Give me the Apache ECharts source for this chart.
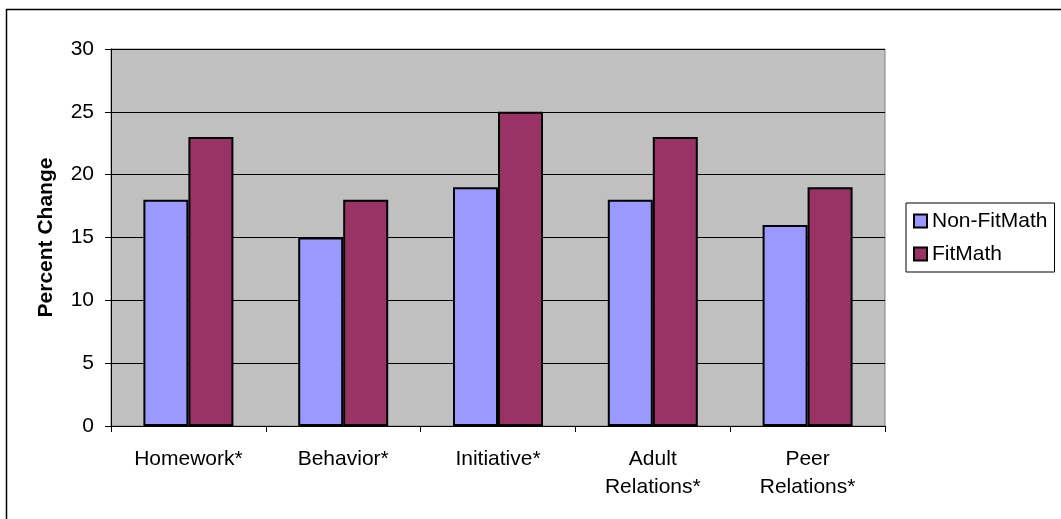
<!DOCTYPE html>
<html>
<head>
<meta charset="utf-8">
<script src="https://cdn.jsdelivr.net/npm/echarts@6/dist/echarts.min.js"></script>
<style>
  html, body { margin: 0; padding: 0; background: #fff; }
  #chart { width: 1061px; height: 519px; }
</style>
</head>
<body>
<div id="chart"></div>
<script>
  // data
  const categories = ['Homework*', 'Behavior*', 'Initiative*', 'Adult\nRelations*', 'Peer\nRelations*']
  const nonFitMath = [18, 15, 19, 18, 16]
  const fitMath = [23, 18, 25, 23, 19]

  const chart = echarts.init(document.getElementById('chart'))
  chart.setOption({
    animation: false,
    textStyle: { fontFamily: 'Liberation Sans, Arial, sans-serif' },
    graphic: [{
      type: 'rect',
      shape: { x: 6.5, y: 9.5, width: 1100, height: 600 },
      style: { fill: 'none', stroke: '#000', lineWidth: 1.5 },
      z: -1
    }],
    grid: {
      left: 111, top: 49, width: 774, height: 377,
      show: true, backgroundColor: '#c0c0c0', borderColor: '#808080', borderWidth: 1
    },
    legend: {
      orient: 'vertical',
      left: 906, top: 203,
      padding: [7, 7, 7, 7],
      itemWidth: 13, itemHeight: 13, itemGap: 11,
      borderColor: '#000', borderWidth: 1,
      textStyle: { fontSize: 21, lineHeight: 22, color: '#000' },
      icon: 'rect',
      itemStyle: { borderColor: '#000', borderWidth: 2 },
      data: ['Non-FitMath', 'FitMath']
    },
    xAxis: {
      type: 'category',
      data: categories,
      axisLine: { lineStyle: { color: '#000' } },
      axisTick: { show: true, length: 6, lineStyle: { color: '#000' } },
      axisLabel: { color: '#000', fontSize: 21, margin: 19, lineHeight: 28, interval: 0 }
    },
    yAxis: {
      type: 'value',
      min: 0, max: 30, interval: 5,
      name: 'Percent Change',
      nameLocation: 'middle',
      nameGap: 54,
      nameTextStyle: { fontSize: 21, fontWeight: 'bold', color: '#000' },
      axisLine: { show: true, lineStyle: { color: '#000' } },
      axisTick: { show: true, length: 6, lineStyle: { color: '#000' } },
      axisLabel: { color: '#000', fontSize: 21, margin: 17 },
      splitLine: { lineStyle: { color: '#000', width: 1 } }
    },
    series: [{
      name: 'Non-FitMath',
      type: 'bar',
      data: nonFitMath,
      barWidth: 45,
      barGap: '0%',
      itemStyle: { color: '#9999ff', borderColor: '#000', borderWidth: 2 }
    }, {
      name: 'FitMath',
      type: 'bar',
      data: fitMath,
      barWidth: 45,
      itemStyle: { color: '#993366', borderColor: '#000', borderWidth: 2 }
    }]
  })
</script>
</body>
</html>
